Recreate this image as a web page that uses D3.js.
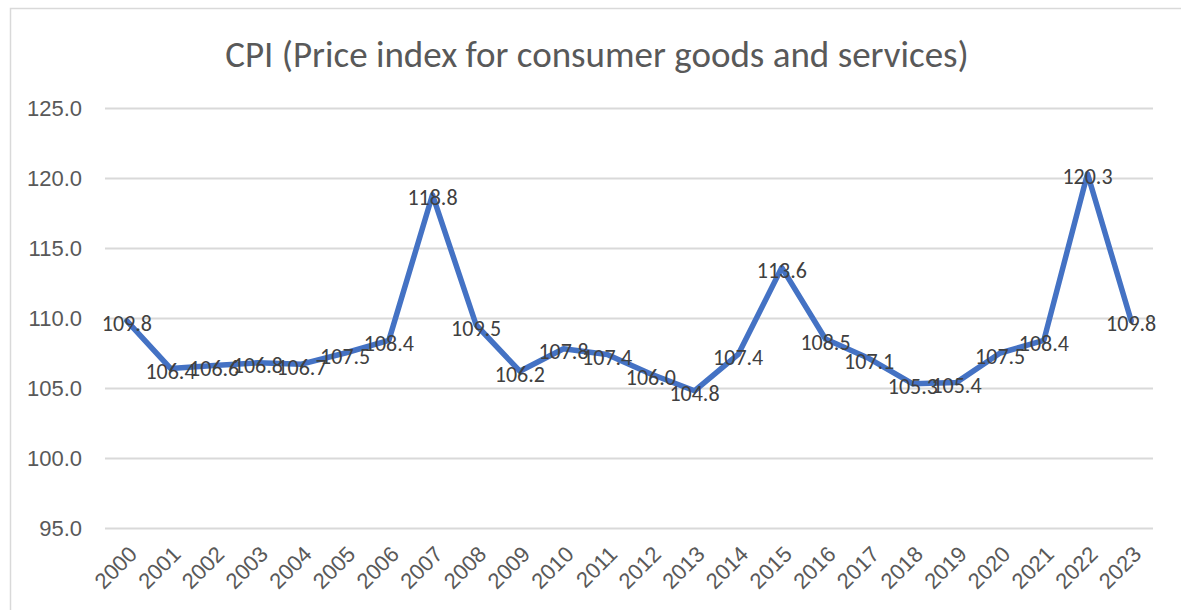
<!DOCTYPE html>
<html>
<head>
<meta charset="utf-8">
<script src="https://cdn.jsdelivr.net/npm/d3@7"></script>
<style>
  body { margin: 0; background: #fff; }
  svg { display: block; font-family: Carlito, Calibri, Lato, sans-serif; }
</style>
</head>
<body>
<div id="container"></div>
<script>
/* DATA */
const years = ["2000","2001","2002","2003","2004","2005","2006","2007","2008","2009","2010","2011",
  "2012","2013","2014","2015","2016","2017","2018","2019","2020","2021","2022","2023"];
const cpi = [109.8, 106.4, 106.6, 106.8, 106.7, 107.5, 108.4, 118.8, 109.5, 106.2, 107.8, 107.4,
  106.0, 104.8, 107.4, 113.6, 108.5, 107.1, 105.3, 105.4, 107.5, 108.4, 120.3, 109.8];
const yTicks = [95, 100, 105, 110, 115, 120, 125];
const title = "CPI (Price index for consumer goods and services)";

/* CONSTANTS */
const width = 1181, height = 610;
const margin = { top: 108, bottom: 82, left: 105, right: 28 };

const data = years.map((y, i) => ({ year: y, value: cpi[i] }));

const svg = d3.select("#container").append("svg")
  .attr("width", width)
  .attr("height", height);

// chart frame
svg.append("rect")
  .attr("x", 10.5).attr("y", 8.5)
  .attr("width", width).attr("height", height)
  .attr("fill", "none")
  .attr("stroke", "#d9d9d9")
  .attr("stroke-width", 1.5);

const xScale = d3.scaleBand()
  .domain(years)
  .range([margin.left, width - margin.right]);

const yScale = d3.scaleLinear()
  .domain([95, 125])
  .range([height - margin.bottom, margin.top]);

// gridlines + y labels
const yAxis = d3.axisLeft(yScale)
  .tickValues(yTicks)
  .tickFormat(d3.format(".1f"))
  .tickSize(-(width - margin.left - margin.right))
  .tickPadding(23);

const yAxisGroup = svg.append("g")
  .attr("transform", `translate(${margin.left}, 0)`)
  .call(yAxis);
yAxisGroup.select(".domain").remove();
yAxisGroup.selectAll("line").attr("stroke", "#d9d9d9").attr("stroke-width", 2);
yAxisGroup.selectAll("text")
  .attr("fill", "#595959")
  .style("font-size", "22px");

// x labels
const xAxisGroup = svg.append("g")
  .attr("transform", `translate(0, ${height - margin.bottom})`)
  .call(d3.axisBottom(xScale).tickSize(0));
xAxisGroup.select(".domain").remove();
xAxisGroup.selectAll("text")
  .attr("fill", "#595959")
  .style("font-size", "22px")
  .style("text-anchor", "end")
  .attr("dy", "0.35em")
  .attr("transform", "translate(4, 20) rotate(-45)");

// title
svg.append("text")
  .attr("x", 597)
  .attr("y", 67)
  .attr("text-anchor", "middle")
  .attr("fill", "#595959")
  .style("font-size", "37px")
  .style("font-weight", 300)
  .text(title);

// line
const line = d3.line()
  .x(d => xScale(d.year) + xScale.bandwidth() / 2)
  .y(d => yScale(d.value));

svg.append("path")
  .datum(data)
  .attr("fill", "none")
  .attr("stroke", "#4472C4")
  .attr("stroke-width", 5.5)
  .attr("stroke-linejoin", "round")
  .attr("stroke-linecap", "round")
  .attr("d", line);

// data labels
svg.selectAll("text.label")
  .data(data)
  .join("text")
  .attr("class", "label")
  .attr("x", d => xScale(d.year) + xScale.bandwidth() / 2)
  .attr("y", d => yScale(d.value) + 3)
  .attr("text-anchor", "middle")
  .attr("dominant-baseline", "central")
  .attr("fill", "#404040")
  .style("font-size", "22px")
  .text(d => d.value.toFixed(1));
</script>
</body>
</html>
